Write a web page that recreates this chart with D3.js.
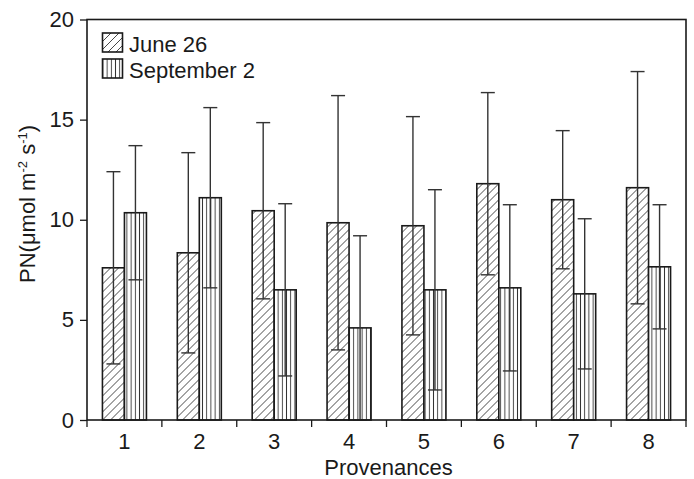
<!DOCTYPE html>
<html>
<head>
<meta charset="utf-8">
<script src="https://cdnjs.cloudflare.com/ajax/libs/d3/7.8.5/d3.min.js"></script>
<style>
  body { margin: 0; background: #fff; }
  text { font-family: "Liberation Sans", Arial, sans-serif; fill: #1a1a1a; }
</style>
</head>
<body>
<div id="chart"></div>
<script>
var provenances = ['1', '2', '3', '4', '5', '6', '7', '8'];
var juneMean = [7.6, 8.35, 10.45, 9.85, 9.7, 11.8, 11.0, 11.6];
var juneSD = [4.8, 5.0, 4.4, 6.35, 5.45, 4.55, 3.45, 5.8];
var sepMean = [10.35, 11.1, 6.5, 4.6, 6.5, 6.6, 6.3, 7.65];
var sepSD = [3.35, 4.5, 4.3, 4.6, 5.0, 4.15, 3.75, 3.1];
var seriesNames = ['June 26', 'September 2'];
var yTicks = [0, 5, 10, 15, 20];

var margin = { top: 19.5, right: 8, bottom: 59, left: 87 };
var width = 694 - margin.left - margin.right;
var height = 479 - margin.top - margin.bottom;

var svg = d3.select('#chart').append('svg')
    .attr('width', 694)
    .attr('height', 479);

var defs = svg.append('defs');

// diagonal hatch for June
var diag = defs.append('pattern')
    .attr('id', 'hatch-diag')
    .attr('patternUnits', 'userSpaceOnUse')
    .attr('width', 8)
    .attr('height', 8);
diag.append('rect').attr('width', 8).attr('height', 8).style('fill', '#fff');
diag.append('path')
    .attr('d', 'M-2,2 L2,-2 M0,8 L8,0 M6,10 L10,6')
    .style('stroke', '#333')
    .style('stroke-width', 0.9);

// vertical lines for September
var vert = defs.append('pattern')
    .attr('id', 'hatch-vert')
    .attr('patternUnits', 'userSpaceOnUse')
    .attr('width', 4.2)
    .attr('height', 10);
vert.append('rect').attr('width', 4.2).attr('height', 10).style('fill', '#fff');
vert.append('path')
    .attr('d', 'M2.1,0 L2.1,10')
    .style('stroke', '#333')
    .style('stroke-width', 0.9);

var g = svg.append('g')
    .attr('transform', 'translate(' + margin.left + ',' + margin.top + ')');

var x = d3.scaleBand()
    .domain(provenances)
    .range([0, width]);

var y = d3.scaleLinear()
    .domain([0, 20])
    .range([height, 0]);

var barW = 22;
var series = [
    { name: seriesNames[0], mean: juneMean, sd: juneSD, fill: 'url(#hatch-diag)', off: -barW },
    { name: seriesNames[1], mean: sepMean, sd: sepSD, fill: 'url(#hatch-vert)', off: 0 }
];

series.forEach(function(s) {
    var rows = provenances.map(function(p, i) {
        return { p: p, v: s.mean[i], sd: s.sd[i] };
    });
    var grp = g.append('g');

    grp.selectAll('rect')
        .data(rows)
        .enter().append('rect')
        .attr('x', function(d) { return x(d.p) + x.bandwidth() / 2 + s.off; })
        .attr('y', function(d) { return y(d.v); })
        .attr('width', barW)
        .attr('height', function(d) { return height - y(d.v); })
        .style('fill', s.fill)
        .style('stroke', '#1a1a1a')
        .style('stroke-width', 1.6);

    var eb = grp.selectAll('g.err')
        .data(rows)
        .enter().append('g')
        .attr('class', 'err')
        .attr('transform', function(d) {
            return 'translate(' + (x(d.p) + x.bandwidth() / 2 + s.off + barW / 2) + ',0)';
        });
    eb.append('line')
        .attr('y1', function(d) { return y(Math.max(0, d.v - d.sd)); })
        .attr('y2', function(d) { return y(d.v + d.sd); })
        .style('stroke', '#333')
        .style('stroke-width', 1.4);
    eb.append('line')
        .attr('x1', -7).attr('x2', 7)
        .attr('y1', function(d) { return y(d.v + d.sd); })
        .attr('y2', function(d) { return y(d.v + d.sd); })
        .style('stroke', '#333')
        .style('stroke-width', 1.4);
    eb.append('line')
        .attr('x1', -7).attr('x2', 7)
        .attr('y1', function(d) { return y(Math.max(0, d.v - d.sd)); })
        .attr('y2', function(d) { return y(Math.max(0, d.v - d.sd)); })
        .style('stroke', '#333')
        .style('stroke-width', 1.4);
});

// frame
g.append('rect')
    .attr('width', width)
    .attr('height', height)
    .style('fill', 'none')
    .style('stroke', '#1a1a1a')
    .style('stroke-width', 1.6);

// y axis
var yAxis = g.append('g')
    .call(d3.axisLeft(y).tickValues(yTicks).tickSize(7).tickPadding(6));
yAxis.select('.domain').remove();
yAxis.selectAll('line').style('stroke', '#1a1a1a').style('stroke-width', 1.3);
yAxis.selectAll('text')
    .style('font-size', '22px')
    .style('font-family', '"Liberation Sans", Arial, sans-serif')
    .style('fill', '#1a1a1a');

// x axis: ticks at category boundaries, labels at centres
var xAxis = g.append('g')
    .attr('transform', 'translate(0,' + height + ')');
var bounds = provenances.map(function(p) { return x(p); }).concat([width]);
xAxis.selectAll('line')
    .data(bounds)
    .enter().append('line')
    .attr('x1', function(d) { return d; })
    .attr('x2', function(d) { return d; })
    .attr('y1', 0)
    .attr('y2', 7)
    .style('stroke', '#1a1a1a')
    .style('stroke-width', 1.3);
xAxis.selectAll('text')
    .data(provenances)
    .enter().append('text')
    .attr('x', function(d) { return x(d) + x.bandwidth() / 2; })
    .attr('y', 28.5)
    .attr('text-anchor', 'middle')
    .style('font-size', '22px')
    .text(function(d) { return d; });

svg.append('text')
    .attr('x', margin.left + width / 2 + 2)
    .attr('y', 474.5)
    .attr('text-anchor', 'middle')
    .style('font-size', '22px')
    .text('Provenances');

// y title
var yt = svg.append('text')
    .attr('transform', 'translate(35,283) rotate(-90)')
    .style('font-size', '22px');
yt.append('tspan').text('PN(\u03bcmol m');
yt.append('tspan').attr('dy', -8).style('font-size', '13px').text('-2');
yt.append('tspan').attr('dy', 8).text(' s');
yt.append('tspan').attr('dy', -8).style('font-size', '13px').text('-1');
yt.append('tspan').attr('dy', 8).text(')');

// legend
var legend = svg.append('g');
series.forEach(function(s, i) {
    var ly = 33 + i * 26;
    legend.append('rect')
        .attr('x', 102.5)
        .attr('y', ly)
        .attr('width', 20)
        .attr('height', 19)
        .style('fill', s.fill)
        .style('stroke', '#1a1a1a')
        .style('stroke-width', 1.6);
    legend.append('text')
        .attr('x', 129)
        .attr('y', ly + 18.5)
        .style('font-size', '22px')
        .text(s.name);
});
</script>
</body>
</html>
